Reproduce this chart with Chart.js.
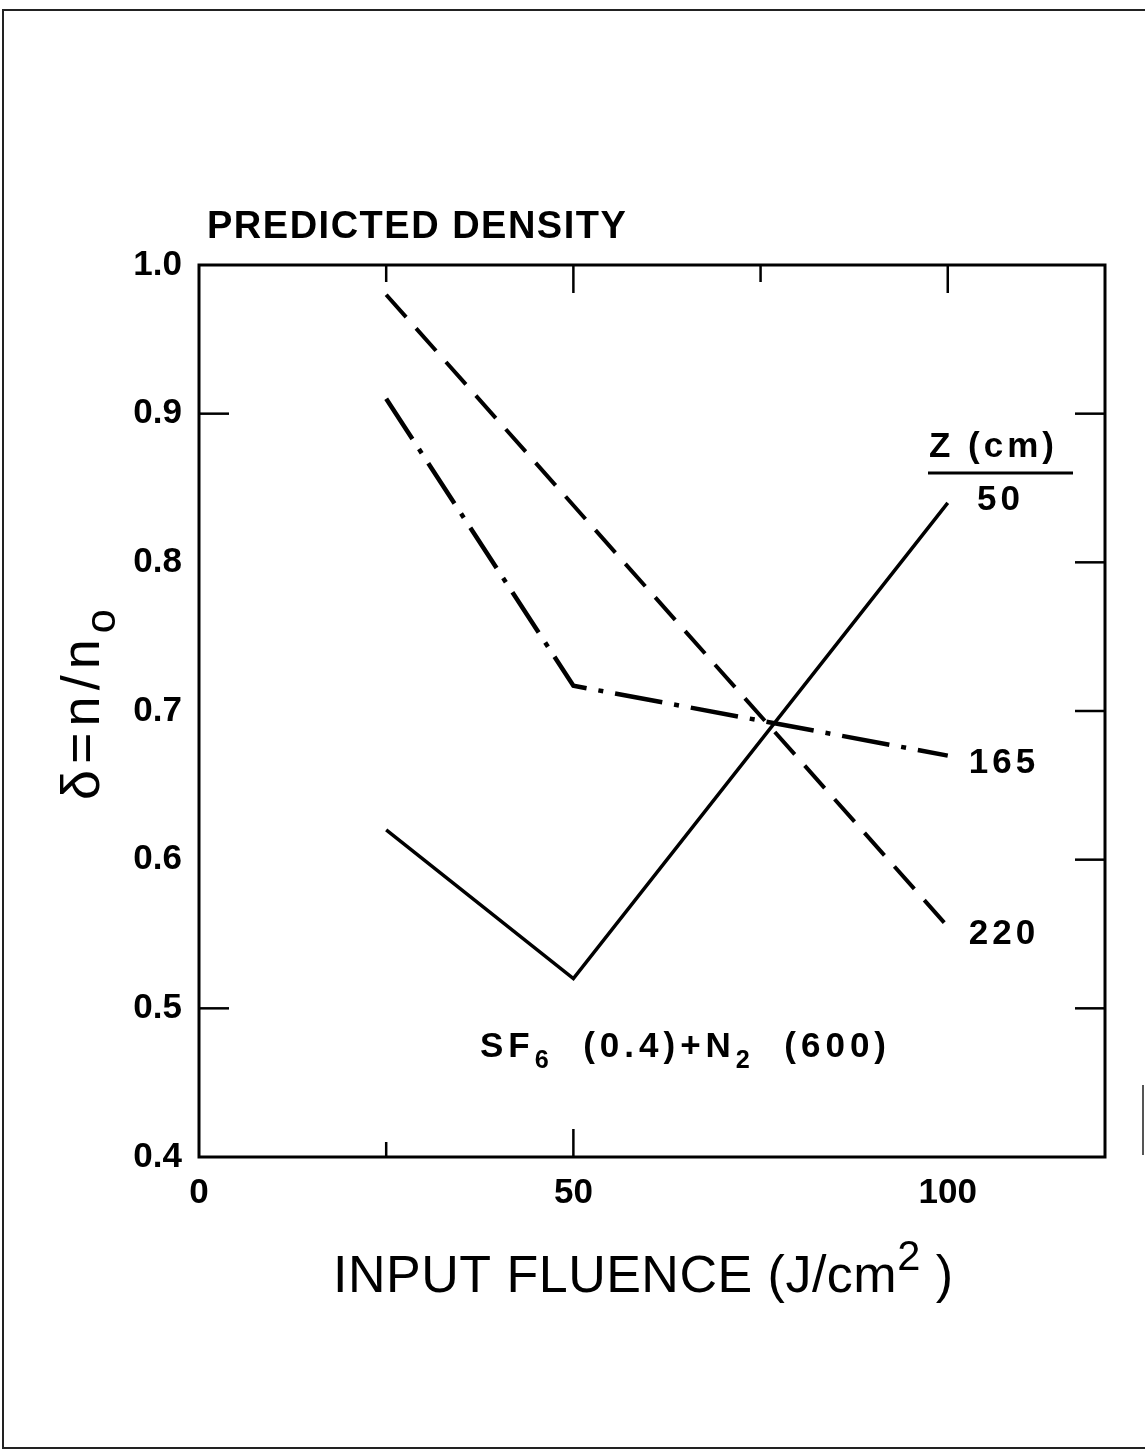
<!DOCTYPE html>
<html>
<head>
<meta charset="utf-8">
<script src="https://cdn.jsdelivr.net/npm/chart.js"></script>
<style>
html, body { margin: 0; padding: 0; background: #fff; }
#wrap { position: relative; width: 1146px; height: 1451px; overflow: hidden; }
#frame { position: absolute; left: 2px; top: 9px; width: 1141px; height: 1436px;
  border-left: 2px solid #222; border-top: 2px solid #222; border-bottom: 2px solid #222; }
#frameRight { position: absolute; left: 1142px; top: 1085px; width: 2px; height: 70px; background: #555; }
canvas { position: absolute; left: 0; top: 0; }
</style>
</head>
<body>
<div id="wrap">
  <div id="frame"></div>
  <div id="frameRight"></div>
  <canvas id="myChart" width="1146" height="1451"></canvas>
</div>
<script>
// values
const fluence = [25, 50, 100];
const z50 = [0.62, 0.52, 0.84];
const z165 = [0.91, 0.717, 0.67];
const fluence220 = [25, 100];
const z220 = [0.98, 0.555];
const zLabels = ['50', '165', '220'];
const xTickLabels = [0, 50, 100];

const FONT = '"Liberation Sans", Arial, sans-serif';

// draws text pieces, some of them sub/superscript
function richText(ctx, parts, x, y, size, weight, spacing) {
  ctx.letterSpacing = spacing + 'px';
  let cx = x;
  parts.forEach(p => {
    const s = p.sub || p.sup ? size * (p.scale || 0.72) : size;
    ctx.font = weight + ' ' + s + 'px ' + FONT;
    const dy = p.sub ? size * 0.3 : (p.sup ? -size * 0.42 : 0);
    ctx.fillText(p.t, cx, y + dy);
    cx += ctx.measureText(p.t).width;
  });
  ctx.letterSpacing = '0px';
  return cx;
}

const boxAndText = {
  id: 'boxAndText',
  afterDatasetsDraw(chart) {
    const { ctx, chartArea: a, scales: { x, y } } = chart;
    ctx.save();
    ctx.strokeStyle = '#000';
    ctx.fillStyle = '#000';
    ctx.lineWidth = 3;
    ctx.strokeRect(a.left, a.top, a.right - a.left, a.bottom - a.top);

    // inward tick marks
    ctx.lineWidth = 2.5;
    const line = (x1, y1, x2, y2) => { ctx.beginPath(); ctx.moveTo(x1, y1); ctx.lineTo(x2, y2); ctx.stroke(); };
    [[25, 17], [50, 28], [75, 17], [100, 28]].forEach(([v, len]) => {
      const px = x.getPixelForValue(v);
      line(px, a.top, px, a.top + len);
    });
    [[25, 15], [50, 28]].forEach(([v, len]) => {
      const px = x.getPixelForValue(v);
      line(px, a.bottom, px, a.bottom - len);
    });
    [0.9, 0.5].forEach(v => {
      const py = y.getPixelForValue(v);
      line(a.left, py, a.left + 30, py);
    });
    [0.9, 0.8, 0.7, 0.6, 0.5].forEach(v => {
      const py = y.getPixelForValue(v);
      line(a.right, py, a.right - 30, py);
    });

    ctx.textAlign = 'left';
    ctx.textBaseline = 'alphabetic';

    // title
    ctx.font = 'bold 38px ' + FONT;
    ctx.letterSpacing = '1.5px';
    ctx.fillText('PREDICTED DENSITY', 207, 238);
    ctx.letterSpacing = '0px';

    // x axis title
    richText(ctx, [{ t: 'INPUT FLUENCE (J/cm' }, { t: '2', sup: true, scale: 0.8 }, { t: ' )' }], 333, 1292, 52, 'normal', 0.5);

    // y axis title, rotated
    ctx.save();
    ctx.translate(99, 800);
    ctx.rotate(-Math.PI / 2);
    richText(ctx, [{ t: '\u03B4=n/n' }, { t: 'o', sub: true, scale: 0.8 }], 0, 0, 54, 'normal', 6);
    ctx.restore();

    // Z (cm) legend header
    const xEnd = x.getPixelForValue(100);
    ctx.font = 'bold 35px ' + FONT;
    ctx.letterSpacing = '4px';
    ctx.fillText('Z (cm)', 929, 457);
    ctx.lineWidth = 3;
    line(928, 473, 1073, 473);
    ctx.fillText(zLabels[0], 977, 510);
    ctx.fillText(zLabels[1], xEnd + 21, y.getPixelForValue(z165[2]) + 17);
    ctx.fillText(zLabels[2], xEnd + 21, y.getPixelForValue(z220[1]) + 17);
    ctx.letterSpacing = '0px';

    // gas mixture note
    richText(ctx, [{ t: 'SF' }, { t: '6', sub: true }, { t: '  (0.4)+N' }, { t: '2', sub: true }, { t: '  (600)' }],
      480, 1057, 35, 'bold', 5);
    ctx.restore();
  }
};

const ctx = document.getElementById('myChart').getContext('2d');
new Chart(ctx, {
  type: 'line',
  data: {
    datasets: [
      {
        label: 'Z = 50 cm',
        data: fluence.map((f, i) => ({ x: f, y: z50[i] })),
        borderColor: '#000',
        borderWidth: 3.5,
        pointRadius: 0,
        fill: false
      },
      {
        label: 'Z = 165 cm',
        data: fluence.map((f, i) => ({ x: f, y: z165[i] })),
        borderColor: '#000',
        borderWidth: 4.5,
        borderDash: [48, 12, 5, 12],
        pointRadius: 0,
        fill: false
      },
      {
        label: 'Z = 220 cm',
        data: fluence220.map((f, i) => ({ x: f, y: z220[i] })),
        borderColor: '#000',
        borderWidth: 4,
        borderDash: [30, 15],
        pointRadius: 0,
        fill: false
      }
    ]
  },
  options: {
    responsive: false,
    animation: false,
    devicePixelRatio: 1,
    layout: { padding: { left: 79, right: 41, top: 265, bottom: 214 } },
    plugins: { legend: { display: false }, tooltip: { enabled: false } },
    scales: {
      x: {
        type: 'linear',
        min: 0,
        max: 121,
        grid: { display: false, drawTicks: false },
        border: { display: false },
        afterFit: s => { s.height = 80; },
        ticks: {
          stepSize: 50,
          includeBounds: false,
          padding: 15,
          color: '#000',
          font: { family: FONT, size: 35, weight: 'bold' },
          callback: v => xTickLabels.includes(v) ? String(v) : ''
        }
      },
      y: {
        min: 0.4,
        max: 1.0,
        grid: { display: false, drawTicks: false },
        border: { display: false },
        afterFit: s => { s.width = 120; },
        ticks: {
          stepSize: 0.1,
          padding: 17,
          color: '#000',
          font: { family: FONT, size: 35, weight: 'bold' },
          callback: v => v.toFixed(1)
        }
      }
    }
  },
  plugins: [boxAndText]
});
</script>
</body>
</html>
